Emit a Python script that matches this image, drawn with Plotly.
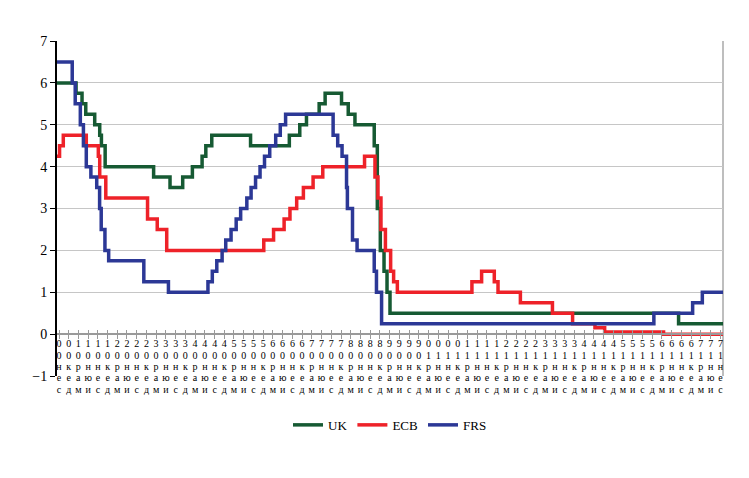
import plotly.graph_objects as go

# --- Policy rates (step changes: date the new rate begins, rate in %) ---
uk_dates = ["2000-08-13", "2001-02-08", "2001-04-05", "2001-05-10", "2001-08-02", "2001-09-18",
            "2001-10-04", "2001-11-08", "2003-02-06", "2003-07-10", "2003-11-06", "2004-02-05",
            "2004-05-06", "2004-06-10", "2004-08-05", "2005-08-04", "2006-08-03", "2006-11-09",
            "2007-01-11", "2007-05-10", "2007-07-05", "2007-12-06", "2008-02-07", "2008-04-10",
            "2008-10-08", "2008-11-06", "2008-12-04", "2009-01-08", "2009-02-05", "2009-03-05",
            "2016-08-04", "2017-09-25"]
uk_rates = [6.0, 5.75, 5.5, 5.25, 5.0, 4.75, 4.5, 4.0, 3.75, 3.5, 3.75, 4.0, 4.25, 4.5, 4.75,
            4.5, 4.75, 5.0, 5.25, 5.5, 5.75, 5.5, 5.25, 5.0, 4.5, 3.0, 2.0, 1.5, 1.0, 0.5,
            0.25, 0.25]

ecb_dates = ["2000-08-13", "2000-09-06", "2000-10-11", "2001-05-15", "2001-09-05", "2001-09-18",
             "2001-11-14", "2002-12-11", "2003-03-12", "2003-06-09", "2005-12-06", "2006-03-08",
             "2006-06-15", "2006-08-09", "2006-10-11", "2006-12-13", "2007-03-14", "2007-06-13",
             "2008-07-09", "2008-10-15", "2008-11-12", "2008-12-10", "2009-01-21", "2009-03-11",
             "2009-04-08", "2009-05-13", "2011-04-13", "2011-07-13", "2011-11-09", "2011-12-14",
             "2012-07-11", "2013-05-08", "2013-11-13", "2014-06-11", "2014-09-10", "2016-03-16",
             "2017-09-25"]
ecb_rates = [4.25, 4.5, 4.75, 4.5, 4.25, 3.75, 3.25, 2.75, 2.5, 2.0, 2.25, 2.5, 2.75, 3.0,
             3.25, 3.5, 3.75, 4.0, 4.25, 3.75, 3.25, 2.5, 2.0, 1.5, 1.25, 1.0, 1.25, 1.5,
             1.25, 1.0, 0.75, 0.5, 0.25, 0.15, 0.05, 0.0, 0.0]

frs_dates = ["2000-08-13", "2001-01-03", "2001-01-31", "2001-03-20", "2001-04-18", "2001-05-15",
             "2001-06-27", "2001-08-21", "2001-09-17", "2001-10-02", "2001-11-06", "2001-12-11",
             "2002-11-06", "2003-06-25", "2004-06-30", "2004-08-10", "2004-09-21", "2004-11-10",
             "2004-12-14", "2005-02-02", "2005-03-22", "2005-05-03", "2005-06-30", "2005-08-09",
             "2005-09-20", "2005-11-01", "2005-12-13", "2006-01-31", "2006-03-28", "2006-05-10",
             "2006-06-29", "2007-09-18", "2007-10-31", "2007-12-11", "2008-01-22", "2008-01-30",
             "2008-03-18", "2008-04-30", "2008-10-08", "2008-10-29", "2008-12-16", "2015-12-16",
             "2016-12-14", "2017-03-15", "2017-09-25"]
frs_rates = [6.5, 6.0, 5.5, 5.0, 4.5, 4.0, 3.75, 3.5, 3.0, 2.5, 2.0, 1.75, 1.25, 1.0, 1.25,
             1.5, 1.75, 2.0, 2.25, 2.5, 2.75, 3.0, 3.25, 3.5, 3.75, 4.0, 4.25, 4.5, 4.75, 5.0,
             5.25, 4.75, 4.5, 4.25, 3.5, 3.0, 2.25, 2.0, 1.5, 1.0, 0.25, 0.5, 0.75, 1.0, 1.0]

# --- X tick labels (quarterly) ---
tick_labels = [
    "сен.00", "дек.00",
    "мар.01", "июн.01", "сен.01", "дек.01",
    "мар.02", "июн.02", "сен.02", "дек.02",
    "мар.03", "июн.03", "сен.03", "дек.03",
    "мар.04", "июн.04", "сен.04", "дек.04",
    "мар.05", "июн.05", "сен.05", "дек.05",
    "мар.06", "июн.06", "сен.06", "дек.06",
    "мар.07", "июн.07", "сен.07", "дек.07",
    "мар.08", "июн.08", "сен.08", "дек.08",
    "мар.09", "июн.09", "сен.09", "дек.09",
    "мар.10", "июн.10", "сен.10", "дек.10",
    "мар.11", "июн.11", "сен.11", "дек.11",
    "мар.12", "июн.12", "сен.12", "дек.12",
    "мар.13", "июн.13", "сен.13", "дек.13",
    "мар.14", "июн.14", "сен.14", "дек.14",
    "мар.15", "июн.15", "сен.15", "дек.15",
    "мар.16", "июн.16", "сен.16", "дек.16",
    "мар.17", "июн.17", "сен.17",
]
y_ticks = [-1, 0, 1, 2, 3, 4, 5, 6, 7]

x_range = ["2000-08-13", "2017-09-25"]
month_num = {"мар": 3, "июн": 6, "сен": 9, "дек": 12}

tick_vals = []
tick_chars = []
for lab in tick_labels:
    mon, yy = lab.split(".")
    tick_vals.append(f"20{yy}-{month_num[mon]:02d}-01")
    tick_chars.append(list(yy[::-1] + mon[::-1]))  # stacked, as rendered in the original

SERIF = "Liberation Serif"
GRID = "#c6c6c6"
AXIS_GRAY = "#9a9a9a"
POS0 = 0.125  # y = 0 inside the [-1, 7] range

# page body has an 8px margin: compensate so the chart lands where the original is
W, H = 741, 470

fig = go.Figure()
series = [("UK", uk_dates, uk_rates, "#165a33"),
          ("ECB", ecb_dates, ecb_rates, "#ee2229"),
          ("FRS", frs_dates, frs_rates, "#2c3896")]
for name, d, r, c in series:
    fig.add_trace(go.Scatter(x=d, y=r, name=name, mode="lines",
                             line=dict(shape="hv", color=c, width=3.5),
                             hoverinfo="x+y+name"))

layout_axes = {}
# crossing tick marks (upper half)
fig.add_trace(go.Scatter(x=[x_range[0]], y=[None], xaxis="x2", showlegend=False,
                         hoverinfo="skip", mode="lines"))
layout_axes["xaxis2"] = dict(type="date", range=x_range, overlaying="x", anchor="free",
                             position=POS0, tickmode="array", tickvals=tick_vals,
                             ticks="inside", ticklen=4, tickcolor=AXIS_GRAY, tickwidth=1,
                             showticklabels=False, showline=False, showgrid=False,
                             zeroline=False, automargin=False)
# stacked label rows, one overlaid axis per character row
row_gap = 11.5
for r in range(5):
    ax_id = 3 + r
    fig.add_trace(go.Scatter(x=[x_range[0]], y=[None], xaxis=f"x{ax_id}", showlegend=False,
                             hoverinfo="skip", mode="lines"))
    layout_axes[f"xaxis{ax_id}"] = dict(
        type="date", range=x_range, overlaying="x", anchor="free", position=POS0,
        tickmode="array", tickvals=tick_vals, ticktext=[ch[r] for ch in tick_chars],
        tickangle=0, ticks="", showline=False, showgrid=False, zeroline=False,
        ticklabelstandoff=int(round(2 + r * row_gap)), automargin=False,
        tickfont=dict(family=SERIF, size=10, color="black"))

fig.update_layout(
    width=W, height=H,
    margin=dict(l=49, r=26, t=33, b=102, autoexpand=False),
    paper_bgcolor="white", plot_bgcolor="white",
    font=dict(family=SERIF, size=13, color="black"),
    xaxis=dict(type="date", range=x_range, tickmode="array", tickvals=tick_vals,
               showticklabels=False, anchor="free", position=POS0,
               showline=True, linecolor=AXIS_GRAY, linewidth=1.5,
               ticks="outside", ticklen=4, tickcolor=AXIS_GRAY, tickwidth=1,
               showgrid=False, zeroline=False, automargin=False),
    yaxis=dict(range=[-1, 7], tickmode="array", tickvals=y_ticks,
               showgrid=True, gridcolor=GRID, gridwidth=1,
               showline=True, linecolor="black", linewidth=2,
               ticks="outside", ticklen=5, tickcolor="black",
               zeroline=False, automargin=False,
               tickfont=dict(family=SERIF, size=14, color="black")),
    legend=dict(orientation="h", x=0.5, xanchor="center", y=-0.146, yanchor="middle",
                font=dict(family=SERIF, size=13, color="black"),
                bgcolor="rgba(0,0,0,0)", itemwidth=30),
    shapes=[dict(type="line", xref="paper", yref="paper", x0=1, x1=1, y0=0, y1=1,
                 line=dict(color="#a8a8a8", width=1.5), layer="below")],
    **layout_axes,
)

fig.write_html("out.html")
